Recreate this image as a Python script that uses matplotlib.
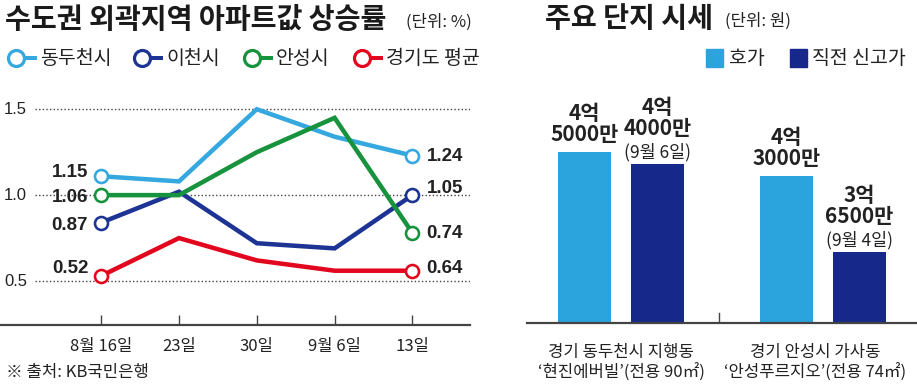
import matplotlib
matplotlib.use("Agg")
import matplotlib.pyplot as plt
from matplotlib.lines import Line2D

plt.rcParams['font.family'] = ['Noto Sans CJK KR', 'DejaVu Sans']

# 왼쪽: 수도권 외곽지역 아파트값 상승률 (그림에서 읽은 위치)
weeks = ['8월 16일', '23일', '30일', '9월 6일', '13일']
dongducheon = [1.11, 1.08, 1.50, 1.34, 1.23]
icheon = [0.84, 1.02, 0.72, 0.69, 1.00]
anseong = [1.00, 1.00, 1.25, 1.45, 0.78]
gyeonggi = [0.53, 0.75, 0.62, 0.56, 0.56]
first_labels = ['1.15', '0.87', '1.06', '0.52']
last_labels = ['1.24', '1.05', '0.74', '0.64']
series_names = ['동두천시', '이천시', '안성시', '경기도 평균']
yticks = [0.5, 1.0, 1.5]

# 오른쪽: 주요 단지 시세 (만원)
complexes = ['경기 동두천시 지행동\n‘현진에버빌’(전용 90㎡)',
             '경기 안성시 가사동\n‘안성푸르지오’(전용 74㎡)']
asking = [45000, 43000]
record = [44000, 36500]
asking_labels = ['4억\n5000만', '4억\n3000만']
record_labels = ['4억\n4000만', '3억\n6500만']
record_dates = ['(9월 6일)', '(9월 4일)']

colors = ['#35A8E0', '#1E3495', '#17923D', '#E2071E']
W, H = 917, 391
PX = 0.72  # 1 px in points
num_font = ['Liberation Sans', 'DejaVu Sans']

fig = plt.figure(figsize=(W / 100, H / 100), dpi=100)


def fx(px):
    return px / W


def fy(py):
    return 1 - py / H


# ---------------- left chart ----------------
ax = fig.add_axes([0, fy(325), fx(470), (325 - 90) / H])
xs = list(range(len(weeks)))
data = [dongducheon, icheon, anseong, gyeonggi]
for vals, c in zip(data, colors):
    ax.plot(xs, vals, color=c, lw=4.5 * PX, marker='o', markevery=[0, len(xs) - 1],
            ms=13 * PX, mfc='white', mec=c, mew=2.6 * PX, zorder=3,
            solid_joinstyle='miter')

ax.set_xlim(-1.30, 4.74)
ax.set_ylim(0.244, 1.612)
ax.hlines(yticks, -0.85, 4.74, colors='#444444', linestyles=(0, (1, 1.6)), lw=1.0, zorder=1)
for t in yticks:
    ax.text(-1.25, t, f'{t:.1f}', ha='left', va='center', fontsize=12, color='#222222',
            family=num_font)

ax.set_yticks([])
ax.set_xticks(xs)
ax.set_xticklabels(weeks, fontsize=12, color='#222222')
ax.tick_params(axis='x', direction='in', length=7, width=1, color='#444444', pad=9)
for s in ['left', 'right', 'top']:
    ax.spines[s].set_visible(False)
ax.spines['bottom'].set_color('#444444')
ax.spines['bottom'].set_linewidth(1.6)

first_nudge = [4, -3, -2, 7]
last_nudge = [-1, 7, -1, 2]
for vals, lab, nd in zip(data, first_labels, first_nudge):
    ax.annotate(lab, (0, vals[0]), xytext=(-13 * PX, nd * PX), textcoords='offset points',
                ha='right', va='center', fontsize=13.5, fontweight='bold', family=num_font,
                color='#222222')
for vals, lab, nd in zip(data, last_labels, last_nudge):
    ax.annotate(lab, (xs[-1], vals[-1]), xytext=(14 * PX, nd * PX), textcoords='offset points',
                ha='left', va='center', fontsize=13.5, fontweight='bold', family=num_font,
                color='#222222')

fig.text(fx(5), fy(20), '수도권 외곽지역 아파트값 상승률', fontsize=20.3, fontweight='bold',
         va='center', ha='left', color='#1a1a1a')
fig.text(fx(406), fy(22), '(단위: %)', fontsize=12, va='center', ha='left', color='#222222')

legend_x = [7, 133, 243, 353]
for name, c, lx in zip(series_names, colors, legend_x):
    fig.add_artist(Line2D([fx(lx + 9), fx(lx + 28)], [fy(58), fy(58)], color=c, lw=4 * PX,
                          transform=fig.transFigure))
    fig.add_artist(Line2D([fx(lx + 9)], [fy(58)], color=c, marker='o', ms=16 * PX,
                          mfc='white', mec=c, mew=3.2 * PX, transform=fig.transFigure))
    fig.text(fx(lx + 33), fy(58), name, fontsize=14, va='center', ha='left', color='#222222')

fig.text(fx(6), fy(373), '※ 출처: KB국민은행', fontsize=12, va='center', ha='left', color='#222222')

# ---------------- right chart ----------------
bx = fig.add_axes([fx(527), fy(323.3), fx(390), (323.3 - 90) / H])
gx = list(range(len(complexes)))
off, bw = 0.18, 0.26
bars_a = bx.bar([g - off for g in gx], asking, width=bw, color='#2BA3DD', zorder=2)
bars_r = bx.bar([g + off for g in gx], record, width=bw, color='#16288A', zorder=2)
bx.set_xlim(-0.465, 1.465)
bx.set_ylim(30500, 50270)
bx.set_yticks([])
bx.set_xticks([])
for g, lab, shift in zip(gx, complexes, [0, -0.04]):
    bx.annotate(lab, (g + shift, 0), xycoords=('data', 'axes fraction'), xytext=(0, -15),
                textcoords='offset points', ha='center', va='top', fontsize=12,
                linespacing=1.15, color='#222222')
bx.axvline(0.485, 0, 10 / 233.3, color='#444444', lw=1)
for s in ['left', 'right', 'top']:
    bx.spines[s].set_visible(False)
bx.spines['bottom'].set_color('#444444')
bx.spines['bottom'].set_linewidth(1.6)

for b, lab in zip(bars_a, asking_labels):
    bx.annotate(lab, (b.get_x() + b.get_width() / 2, b.get_height()), xytext=(0, 7 * PX),
                textcoords='offset points', ha='center', va='bottom', fontsize=15,
                fontweight='bold', linespacing=1.0, color='#222222')
for b, lab, d in zip(bars_r, record_labels, record_dates):
    cx = b.get_x() + b.get_width() / 2
    bx.annotate(d, (cx, b.get_height()), xytext=(0, 3 * PX), textcoords='offset points',
                ha='center', va='bottom', fontsize=12.5, color='#222222')
    bx.annotate(lab, (cx, b.get_height()), xytext=(0, 25 * PX), textcoords='offset points',
                ha='center', va='bottom', fontsize=15, fontweight='bold', linespacing=1.0,
                color='#222222')

fig.text(fx(545), fy(19), '주요 단지 시세', fontsize=20.3, fontweight='bold', va='center',
         ha='left', color='#1a1a1a')
fig.text(fx(725), fy(21), '(단위: 원)', fontsize=12, va='center', ha='left', color='#222222')
fig.patches.append(plt.Rectangle((fx(706), fy(67)), fx(17), 18 / H, color='#2BA3DD',
                                 transform=fig.transFigure, figure=fig))
fig.text(fx(729), fy(58), '호가', fontsize=14, va='center', ha='left', color='#222222')
fig.patches.append(plt.Rectangle((fx(790), fy(67)), fx(17), 18 / H, color='#16288A',
                                 transform=fig.transFigure, figure=fig))
fig.text(fx(812), fy(58), '직전 신고가', fontsize=14, va='center', ha='left', color='#222222')

fig.savefig('out.png', dpi=100, facecolor='white')
